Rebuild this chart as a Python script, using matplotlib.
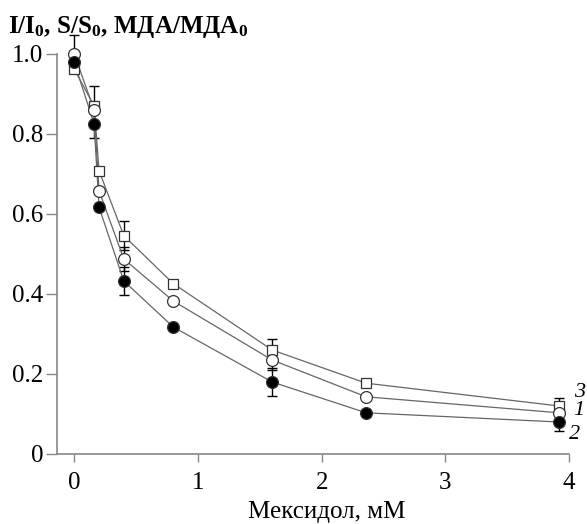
import matplotlib
matplotlib.use("Agg")
import matplotlib.pyplot as plt

plt.rcParams['font.family'] = ['Liberation Serif', 'DejaVu Serif']
plt.rcParams['mathtext.fontset'] = 'custom'
plt.rcParams['mathtext.rm'] = 'Liberation Serif:bold'
plt.rcParams['mathtext.it'] = 'Liberation Serif:bold'

# concentrations, mM
conc = [0, 0.16, 0.2, 0.4, 0.8, 1.6, 2.36, 3.92]

# curve 1 - open circles
y1 = [1.0, 0.86, 0.658, 0.4875, 0.3825, 0.235, 0.143, 0.103]
e1 = [0.048, 0.0, 0.0, 0.03, 0.0, 0.025, 0.0, 0.0]
# curve 2 - filled circles
y2 = [0.979, 0.825, 0.617, 0.4325, 0.3175, 0.18, 0.103, 0.08]
e2 = [0.0, 0.035, 0.0, 0.035, 0.0, 0.035, 0.0, 0.022]
# curve 3 - open squares
y3 = [0.962, 0.87, 0.708, 0.546, 0.426, 0.26, 0.177, 0.12]
e3 = [0.0, 0.05, 0.0, 0.036, 0.0, 0.028, 0.0, 0.021]

xticks = [0, 1, 2, 3, 4]
yticks = [0, 0.2, 0.4, 0.6, 0.8, 1.0]
ytick_labels = ['0', '0.2', '0.4', '0.6', '0.8', '1.0']

fig = plt.figure(figsize=(5.87, 5.24), dpi=100)
ax = fig.add_axes([57/587, 1-454/524, (569-57)/587, 400/524])

line_col = '#666666'
edge_col = '#333333'

series = [
    (y3, e3, 's', 'white', 7, '3', (15, 10)),
    (y1, e1, 'o', 'white', 8.5, '1', (14, 2)),
    (y2, e2, 'o', 'black', 8.5, '2', (11, -9)),
]
for y, e, m, fc, ms, lab, off in series:
    ax.errorbar(conc, y, yerr=e, fmt='none', ecolor='black', elinewidth=1,
                capsize=3.5, capthick=1, zorder=2, clip_on=False)
    ax.plot(conc, y, '-', color=line_col, lw=0.9, zorder=3, clip_on=False)
    ax.plot(conc, y, m, mfc=fc, mec=edge_col, ms=ms, mew=0.9, zorder=4,
            clip_on=False)
    ax.annotate(lab, xy=(conc[-1], y[-1]), xytext=off, textcoords='offset points',
                ha='center', va='center', fontsize=16, style='italic')

ax.set_xlim(-0.14, 4.0)
ax.set_ylim(0, 1.0)
ax.set_xticks(xticks)
ax.set_yticks(yticks)
ax.set_yticklabels(ytick_labels)

for s in ['top', 'right']:
    ax.spines[s].set_visible(False)
for s in ['left', 'bottom']:
    ax.spines[s].set_color('#888888')
    ax.spines[s].set_linewidth(1.2)
ax.tick_params(axis='both', colors='#888888', labelcolor='black', labelsize=18,
               width=1.0)
ax.tick_params(axis='y', length=8, pad=2)
ax.tick_params(axis='x', length=6, pad=7)

fig.text(8/587, 1-33/524, 'I/I$_0$, S/S$_0$, МДА/МДА$_0$', fontsize=18,
         fontweight='bold', ha='left', va='baseline')
fig.text(327/587, 1-512/524, 'Мексидол, мМ', fontsize=18, ha='center', va='center')

fig.savefig('out.png', dpi=100)
